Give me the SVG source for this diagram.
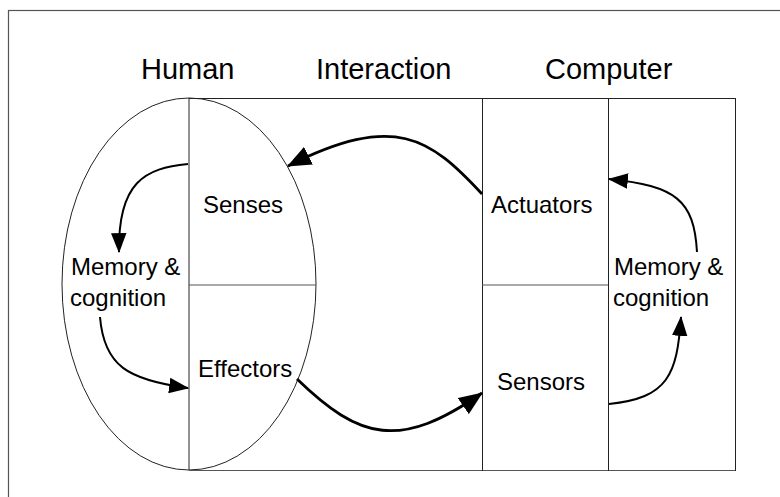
<svg xmlns="http://www.w3.org/2000/svg" width="780" height="497" viewBox="0 0 780 497">
<defs>
<style>
.frame{fill:none;stroke:#555;stroke-width:1.2}
.ln{fill:none;stroke:#222;stroke-width:1}
.mid{fill:none;stroke:#555;stroke-width:1.2}
.title{font-family:"Liberation Sans",Arial,sans-serif;font-size:29px;fill:#000}
.lbl{font-family:"Liberation Sans",Arial,sans-serif;font-size:24px;fill:#000}
.arS{fill:none;stroke:#000;stroke-width:2;marker-end:url(#hS)}
.arL{fill:none;stroke:#000;stroke-width:2.8;marker-end:url(#hL)}
</style>
<marker id="hS" markerUnits="userSpaceOnUse" markerWidth="20" markerHeight="16" viewBox="0 0 18 14" refX="17" refY="7" orient="auto">
<path d="M0,0 L18,7 L0,14 Z" fill="#000"/>
</marker>
<marker id="hL" markerUnits="userSpaceOnUse" markerWidth="24" markerHeight="20" viewBox="0 0 22 18" refX="21" refY="9" orient="auto">
<path d="M0,0 L22,9 L0,18 Z" fill="#000"/>
</marker>
</defs>
<rect class="frame" x="8.5" y="10.5" width="800" height="500"/>
<g id="titles">
<text class="title" x="141" y="79">Human</text>
<text class="title" x="316" y="79">Interaction</text>
<text class="title" x="545" y="79">Computer</text>
</g>
<g id="human">
<ellipse class="ln" cx="189" cy="284" rx="127" ry="186"/>
<line class="ln" x1="189" y1="98" x2="189" y2="470"/>
<line class="mid" x1="189" y1="285" x2="316" y2="285"/>
</g>
<g id="frameBox">
<line class="ln" x1="189" y1="98.5" x2="735.5" y2="98.5"/>
<line class="mid" x1="189" y1="470.5" x2="735.5" y2="470.5"/>
<line class="ln" x1="735.5" y1="98" x2="735.5" y2="471"/>
</g>
<g id="computer">
<line class="ln" x1="482.5" y1="98" x2="482.5" y2="471"/>
<line class="ln" x1="608.5" y1="98" x2="608.5" y2="471"/>
<line class="mid" x1="482" y1="285" x2="608" y2="285"/>
</g>
<g id="senses"><text class="lbl" x="203" y="213">Senses</text></g>
<g id="effectors"><text class="lbl" x="198" y="377">Effectors</text></g>
<g id="human-memory"><text class="lbl" x="71" y="275">Memory &amp;</text><text class="lbl" x="70" y="306">cognition</text></g>
<g id="actuators"><text class="lbl" x="491" y="213">Actuators</text></g>
<g id="sensors"><text class="lbl" x="497" y="390">Sensors</text></g>
<g id="computer-memory"><text class="lbl" x="614" y="275">Memory &amp;</text><text class="lbl" x="613" y="306">cognition</text></g>
<g id="connectors">
<path class="arS" d="M188,164 C145,168 118,182 119,252"/>
<path class="arS" d="M100,317 C104,366 128,380 188,388"/>
<path class="arL" d="M482,194 C430,138 395,112 288,166"/>
<path class="arL" d="M297,379 C360,440 400,450 482,393"/>
<path class="arS" d="M609,404 C668,398 677,375 681,317"/>
<path class="arS" d="M697,252 C694,200 676,186 609,179"/>
</g>
</svg>
